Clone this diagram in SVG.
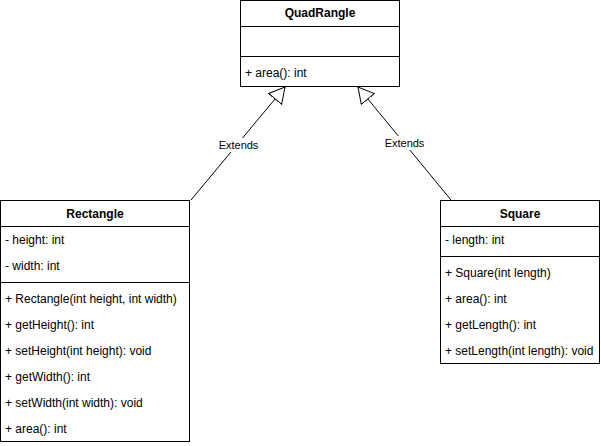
<svg xmlns="http://www.w3.org/2000/svg" width="601" height="446" viewBox="0 0 601 446">
<style>
.box{fill:#fff;stroke:#000;stroke-width:1}
.sep{stroke:#000;stroke-width:1}
.t{font-family:"Liberation Sans",Arial,sans-serif;font-size:12px;fill:#000}
.h{font-weight:bold;text-anchor:middle}
.lbl{font-family:"Liberation Sans",Arial,sans-serif;font-size:11px;fill:#000;text-anchor:middle}
.conn{stroke:#000;stroke-width:1;fill:none}
</style>
<defs>
<marker id="ext" markerWidth="20" markerHeight="20" refX="16" refY="9" orient="auto" markerUnits="userSpaceOnUse">
<path d="M0.5,0.5 L16,9 L0.5,17.5 Z" fill="#fff" stroke="#000" stroke-width="1"/>
</marker>
</defs>
<rect width="601" height="446" fill="#fff"/>
<g id="connectors">
<line class="conn" x1="191" y1="200" x2="285" y2="87" marker-end="url(#ext)"/>
<line class="conn" x1="451" y1="200" x2="358" y2="87" marker-end="url(#ext)"/>
<rect x="217" y="138" width="43" height="14" fill="#fff"/>
<text class="lbl" x="238.5" y="149">Extends</text>
<rect x="383" y="136" width="43" height="14" fill="#fff"/>
<text class="lbl" x="404.5" y="147">Extends</text>
</g>
<g id="QuadRangle">
<rect class="box" x="240.5" y="0.5" width="159" height="86"/>
<line class="sep" x1="240.5" y1="26.5" x2="399.5" y2="26.5"/>
<line class="sep" x1="240.5" y1="56.5" x2="399.5" y2="56.5"/>
<text class="t h" x="320" y="17">QuadRangle</text>
<text class="t" x="245" y="77">+ area(): int</text>
</g>
<g id="Rectangle">
<rect class="box" x="0.5" y="200.5" width="189" height="241"/>
<line class="sep" x1="0.5" y1="226.5" x2="189.5" y2="226.5"/>
<line class="sep" x1="0.5" y1="282.5" x2="189.5" y2="282.5"/>
<text class="t h" x="95" y="218">Rectangle</text>
<text class="t" x="5" y="244">- height: int</text>
<text class="t" x="5" y="270">- width: int</text>
<text class="t" x="5" y="303">+ Rectangle(int height, int width)</text>
<text class="t" x="5" y="329">+ getHeight(): int</text>
<text class="t" x="5" y="355">+ setHeight(int height): void</text>
<text class="t" x="5" y="381">+ getWidth(): int</text>
<text class="t" x="5" y="407">+ setWidth(int width): void</text>
<text class="t" x="5" y="433">+ area(): int</text>
</g>
<g id="Square">
<rect class="box" x="440.5" y="200.5" width="159" height="163"/>
<line class="sep" x1="440.5" y1="226.5" x2="599.5" y2="226.5"/>
<line class="sep" x1="440.5" y1="256.5" x2="599.5" y2="256.5"/>
<text class="t h" x="520" y="218">Square</text>
<text class="t" x="445" y="244">- length: int</text>
<text class="t" x="445" y="277">+ Square(int length)</text>
<text class="t" x="445" y="303">+ area(): int</text>
<text class="t" x="445" y="329">+ getLength(): int</text>
<text class="t" x="445" y="355">+ setLength(int length): void</text>
</g>
</svg>
